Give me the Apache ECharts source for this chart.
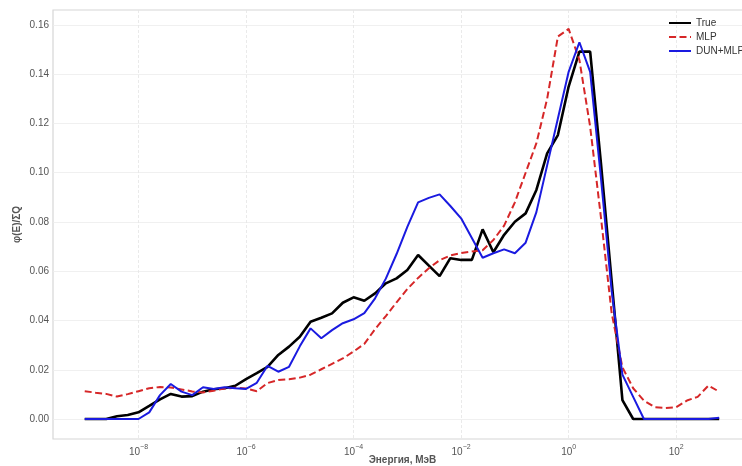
<!DOCTYPE html>
<html>
<head>
<meta charset="utf-8">
<script src="https://cdn.jsdelivr.net/npm/echarts@6/dist/echarts.min.js"></script>
<style>
html,body{margin:0;padding:0;background:#fff;}
#chart{width:742px;height:466px;}
</style>
</head>
<body>
<div id="chart"></div>
<script>
// log10 of energy (MeV)
const logE = [-9.0,-8.8,-8.6,-8.4,-8.2,-8.0,-7.8,-7.6,-7.4,-7.2,-7.0,-6.8,-6.6,-6.4,-6.2,-6.0,-5.8,-5.6,-5.4,-5.2,
  -5.0,-4.8,-4.6,-4.4,-4.2,-4.0,-3.8,-3.6,-3.4,-3.2,-3.0,-2.8,-2.6,-2.4,-2.2,-2.0,-1.8,-1.6,-1.4,-1.2,
  -1.0,-0.8,-0.6,-0.4,-0.2,0.0,0.2,0.4,0.6,0.8,1.0,1.2,1.4,1.6,1.8,2.0,2.2,2.4,2.6,2.8];

const trueVals = [0,0,0,0.0011,0.0016,0.0027,0.0053,0.0080,0.0102,0.0091,
  0.0093,0.0111,0.0121,0.0125,0.0135,0.0162,0.0186,0.0212,0.0260,0.0294,
  0.0334,0.0395,0.0411,0.0429,0.0472,0.0494,0.0480,0.0510,0.0551,0.0571,
  0.0605,0.0666,0.0623,0.0580,0.0653,0.0646,0.0646,0.0770,0.0677,0.0748,
  0.0801,0.0835,0.0930,0.1079,0.1153,0.1350,0.1492,0.1492,0.1040,0.0560,
  0.0077,0,0,0,0,0,0,0,0,0];

const mlpVals = [0.0113,0.0107,0.0102,0.0091,0.0101,0.0113,0.0125,0.0130,0.0128,0.0120,
  0.0112,0.0108,0.0115,0.0124,0.0127,0.0124,0.0113,0.0146,0.0158,0.0161,
  0.0168,0.0180,0.0202,0.0224,0.0246,0.0274,0.0305,0.0365,0.0418,0.0474,
  0.0528,0.0573,0.0612,0.0645,0.0664,0.0674,0.0680,0.0685,0.0727,0.0785,
  0.0880,0.1000,0.1120,0.1300,0.1553,0.1584,0.1458,0.1187,0.0820,0.0430,
  0.0210,0.0125,0.0075,0.0048,0.0045,0.0048,0.0075,0.0090,0.0136,0.0111];

const dunVals = [0,0,0,0,0,0,0.0027,0.0097,0.0142,0.0111,
  0.0097,0.0129,0.0122,0.0129,0.0125,0.0122,0.0147,0.0216,0.0192,0.0212,
  0.0295,0.0368,0.0328,0.0361,0.0389,0.0405,0.0430,0.0490,0.0570,0.0670,
  0.0780,0.0880,0.0898,0.0912,0.0865,0.0815,0.0735,0.0655,0.0673,0.0689,
  0.0673,0.0716,0.0840,0.1030,0.1220,0.1410,0.1530,0.1410,0.0980,0.0520,
  0.0180,0.0090,0,0,0,0,0,0,0,0.0005];

const xTicks = [-8,-6,-4,-2,0,2];
const yTicks = [0,0.02,0.04,0.06,0.08,0.10,0.12,0.14,0.16];
const seriesNames = ['True','MLP','DUN+MLP'];

const pairs = arr => logE.map((x,i)=>[x,arr[i]]);
const FONT = 'Liberation Sans, Arial, sans-serif';

const chart = echarts.init(document.getElementById('chart'), null, {renderer:'canvas'});
chart.setOption({
  animation:false,
  backgroundColor:'#fff',
  grid:{left:53, top:10, bottom:27, right:-10, show:true, borderColor:'#d6d6d6', borderWidth:1.2,
    containLabel:false, outerBoundsMode:'none'},
  legend:{
    orient:'vertical', left:663, top:13, itemWidth:22, itemHeight:10, itemGap:4,
    itemStyle:{opacity:0},
    textStyle:{fontSize:10, color:'#333', fontFamily:FONT},
    data:seriesNames
  },
  xAxis:{
    type:'value', min:-9.59, max:3.41,
    name:'Энергия, МэВ', nameLocation:'middle', nameGap:16, nameMoveOverlap:false,
    nameTextStyle:{fontSize:10, fontWeight:'bold', color:'#555', fontFamily:FONT},
    axisLine:{show:false}, axisTick:{show:false, customValues:xTicks},
    axisLabel:{
      customValues:xTicks, margin:5, fontFamily:FONT,
      formatter: v => '{b|10}{s|' + (v<0?'\u2212':'') + Math.abs(Math.round(v)) + '}',
      rich:{
        b:{fontSize:10, color:'#555', fontFamily:FONT, verticalAlign:'bottom'},
        s:{fontSize:7, color:'#555', fontFamily:FONT, verticalAlign:'bottom', padding:[0,0,6,0]}
      }
    },
    splitLine:{show:true, lineStyle:{color:'#e4e4e4', width:0.8, type:[3,2]}}
  },
  yAxis:{
    type:'value', min:-0.00812, max:0.16609,
    name:'φ(E)/ΣQ', nameLocation:'middle', nameGap:31, nameMoveOverlap:false,
    nameTextStyle:{fontSize:10, fontWeight:'bold', color:'#555', fontFamily:FONT},
    axisLine:{show:false}, axisTick:{show:false, customValues:yTicks},
    axisLabel:{customValues:yTicks, margin:4, fontSize:10, color:'#555', fontFamily:FONT,
      formatter: v => v.toFixed(2)},
    splitLine:{show:true, lineStyle:{color:'#ececec', width:0.8}}
  },
  series:[
    {name:'True', type:'line', data:pairs(trueVals), symbol:'none', smooth:false,
      lineStyle:{color:'#000', width:2.6}, itemStyle:{color:'#000'}, z:2},
    {name:'MLP', type:'line', data:pairs(mlpVals), symbol:'none',
      lineStyle:{color:'#d62728', width:2, type:[7,3.5]}, itemStyle:{color:'#d62728'}, z:3},
    {name:'DUN+MLP', type:'line', data:pairs(dunVals), symbol:'none',
      lineStyle:{color:'#1a1ae0', width:2}, itemStyle:{color:'#1a1ae0'}, z:4}
  ]
});
</script>
</body>
</html>
